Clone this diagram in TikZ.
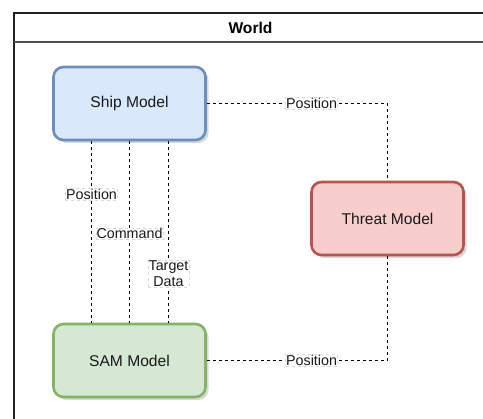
\documentclass[tikz,border=0pt]{standalone}
\usepackage{fontspec}
\setmainfont{Liberation Sans}
\usetikzlibrary{shadows,positioning}
\definecolor{shipFill}{HTML}{DAE8FC}
\definecolor{shipLine}{HTML}{6C8EBF}
\definecolor{threatFill}{HTML}{F8CECC}
\definecolor{threatLine}{HTML}{B85450}
\definecolor{samFill}{HTML}{D5E8D4}
\definecolor{samLine}{HTML}{82B366}
\definecolor{laneLine}{HTML}{222222}

\begin{document}
\begin{tikzpicture}[x=1pt,y=-1pt,
  font=\fontsize{15.6}{18}\selectfont,
  model/.style={draw,line width=2.6pt,rounded corners=10pt,align=center,
    minimum width=152pt,minimum height=73pt,text=black!90,
    drop shadow={shadow xshift=3pt,shadow yshift=-3pt,fill=black!30}},
  ship/.style={model,draw=shipLine,fill=shipFill},
  threat/.style={model,draw=threatLine,fill=threatFill},
  sam/.style={model,draw=samLine,fill=samFill},
  link/.style={draw=black,line width=1pt,dash pattern=on 3pt off 3pt},
  el/.style={font=\fontsize{14.3}{15.5}\selectfont,fill=white,draw=black!15,
    line width=0.5pt,inner sep=0.6pt,align=center,text=black!90}]

\useasboundingbox (0,0) rectangle (483,419);

% world lane with its title bar
\draw[laneLine,line width=1.7pt] (14,13) rectangle (492,440);
\draw[laneLine!80,line width=1.7pt] (14,42) -- (492,42);
\node[font=\bfseries\fontsize{15.6}{18}\selectfont] (world) at (250.5,28) {World};

\node[ship] (ship) at (129.5,103.5) {Ship Model};
\node[threat] (threat) at (387.5,218.5) {Threat Model};
\node[sam] (sam) at (129.5,360.5) {SAM Model};

\draw[link] ([xshift=-38pt]ship.south) -- node[el,pos=0.29]{Position} ([xshift=-38pt]sam.north);
\draw[link] (ship.south) -- node[el,pos=0.51]{Command} (sam.north);
\draw[link] ([xshift=39pt]ship.south) -- node[el,pos=0.73]{Target\\Data} ([xshift=39pt]sam.north);

\draw[link] (ship.east) -| node[el,pos=0.29]{Position} (threat.north);
\draw[link] (sam.east) -| node[el,pos=0.29]{Position} (threat.south);
\end{tikzpicture}
\end{document}
